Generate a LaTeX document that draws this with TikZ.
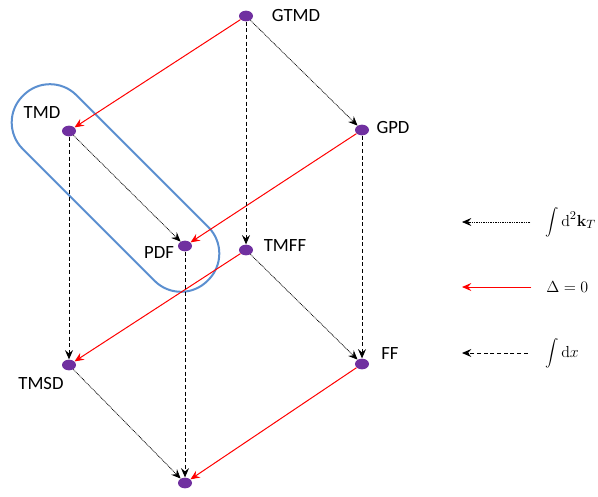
\documentclass[tikz,border=0pt]{standalone}
\usepackage[no-math]{fontspec}
\setmainfont{Carlito}
\usepackage{tikz}
\usetikzlibrary{arrows.meta, shapes.geometric, positioning}
\definecolor{dotpurple}{HTML}{7030A0}
\definecolor{ringblue}{HTML}{5B8FD0}

\begin{document}
\begin{tikzpicture}[x=0.75pt, y=-0.75pt,
  pt/.style={ellipse, fill=dotpurple, minimum width=10.5pt, minimum height=8pt, inner sep=0pt},
  lbl/.style={font=\fontsize{14}{16}\selectfont, inner sep=0pt},
  leg/.style={font=\fontsize{12.5}{15}\selectfont, inner sep=0pt, anchor=west},
  tip/.style={-{Stealth[length=7pt, width=6pt, inset=2.5pt]}},
  kt/.style={tip, line width=0.55pt, dash pattern=on 0.7pt off 0.6pt},
  del/.style={tip, red, line width=0.75pt},
  dx/.style={tip, line width=0.75pt, dash pattern=on 3pt off 2pt}]
\useasboundingbox (0,0) rectangle (598,496);
% the blue ring round TMD and PDF
\node[draw=ringblue, line width=1.5pt, rounded corners=28pt, minimum width=196pt,
      minimum height=57pt, rotate=-45] (ring) at (115.5,188) {};
% points
\node[pt] (gtmd) at (246,16)  {};
\node[pt] (tmd)  at (69,131)  {};
\node[pt] (gpd)  at (362,130) {};
\node[pt] (pdf)  at (185,246) {};
\node[pt] (tmff) at (246,250) {};
\node[pt] (tmsd) at (69,365)  {};
\node[pt] (ff)   at (362,364) {};
\node[pt] (bot)  at (185,483) {};
% names
\node[lbl] (gtmdl) at (296,16)  {GTMD};
\node[lbl] (tmdl)  at (42,113)  {TMD};
\node[lbl] (gpdl)  at (393,128) {GPD};
\node[lbl] (pdfl)  at (159,253) {PDF};
\node[lbl] (tmffl) at (285,246) {TMFF};
\node[lbl] (tmsdl) at (41,383)  {TMSD};
\node[lbl] (ffl)   at (390,354) {FF};
% d^2 k_T
\draw[kt] (gtmd) -- (gpd);
\draw[kt] (tmd) -- (pdf);
\draw[kt] (tmff) -- (ff);
\draw[kt] (tmsd) -- (bot);
% Delta = 0
\draw[del] (gtmd) -- (tmd);
\draw[del] (gpd) -- (pdf);
\draw[del] (tmff) -- (tmsd);
\draw[del] (ff) -- (bot);
% dx
\draw[dx] (gtmd) -- (tmff);
\draw[dx] (tmd) -- (tmsd);
\draw[dx] (gpd) -- (ff);
\draw[dx] (pdf) -- (bot);
% legend
\node[leg] (ktl)  at (545,222) {$\displaystyle\int \mathrm{d}^2\mathbf{k}_T$};
\node[leg] (dell) at (546,287) {$\Delta=0$};
\node[leg] (dxl)  at (545,353) {$\displaystyle\int \mathrm{d}x$};
\coordinate (kte)  at (462,222);
\coordinate (dele) at (462,287);
\coordinate (dxe)  at (462,353);
\draw[kt]  ([xshift=-11pt]ktl.west) -- (kte);
\draw[del] ([xshift=-11pt]dell.west) -- (dele);
\draw[dx]  ([xshift=-13pt]dxl.west) -- (dxe);
\end{tikzpicture}
\end{document}
